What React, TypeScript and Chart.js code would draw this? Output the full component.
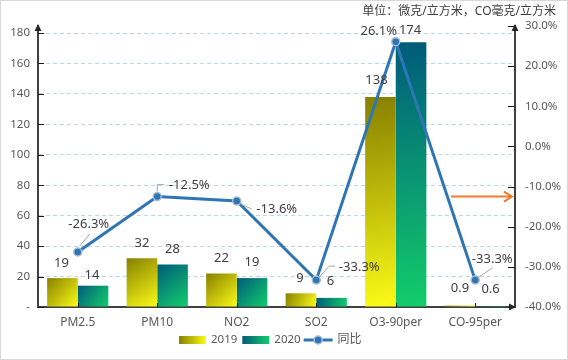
import React, { useEffect, useRef } from 'react';
import { Chart, registerables } from 'chart.js';

Chart.register(...registerables);

// ---- data ----
const categories = ['PM2.5', 'PM10', 'NO2', 'SO2', 'O3-90per', 'CO-95per'];
const values2019 = [19, 32, 22, 9, 138, 0.9];
const values2020 = [14, 28, 19, 6, 174, 0.6];
const yoyPercent = [-26.3, -12.5, -13.6, -33.3, 26.1, -33.3];
const leftTicks = [0, 20, 40, 60, 80, 100, 120, 140, 160, 180];
const seriesNames = ['2019', '2020', '同比'];
const unitText = '单位：微克/立方米，CO毫克/立方米';
const arrowLevel = -12.5;

// ---- styling (label placement offsets, colours) ----
const FONT = "'Noto Sans', 'Noto Sans CJK SC', sans-serif";
const grad2019 = ['#878000', '#fbfb16'];
const grad2020 = ['#005a7a', '#12cd6a'];
const lineColor = '#2E75B6';
const off2019 = [[-1, -15], [0, -15], [0, -15], [-1, -15], [-4, -17], [0, -17]];
const off2020 = [[-1, -10], [0, -15], [0, -16], [-1, -17], [-1, -12], [0, -17]];
const offLine = [[11, -28], [32, -11], [40, 8], [43, -13], [-17, -10], [17, -21]];
const leaders: number[][][] = [
  [[2, -6], [12, -18]],
  [[0, -5], [0, -12], [7, -12]],
  [[4, 3], [15, 8]],
  [[2, -2], [13, -14], [19, -14]],
  [],
  [[2, -2], [17, -12]],
];

const fmtBar = (v: number) => String(v);
const fmtPct = (v: number) => v.toFixed(1) + '%';

const decorPlugin = {
  id: 'decor',
  beforeDatasetsDraw(chart: any) {
    const ctx = chart.ctx;
    [0, 1].forEach((di) => {
      const meta = chart.getDatasetMeta(di);
      const cols = di === 0 ? grad2019 : grad2020;
      meta.data.forEach((bar: any) => {
        const { x, y, base, width } = bar.getProps(['x', 'y', 'base', 'width'], true);
        const g = ctx.createLinearGradient(x - width / 2, y, x + width / 2, base);
        g.addColorStop(0, cols[0]);
        g.addColorStop(1, cols[1]);
        bar.options = Object.assign({}, bar.options, { backgroundColor: g });
      });
    });
  },
  afterDatasetsDraw(chart: any) {
    const ctx = chart.ctx;
    const area = chart.chartArea;
    ctx.save();
    // orange arrow
    const ay = chart.scales.y1.getPixelForValue(arrowLevel);
    const ax1 = area.right - 64;
    const ax2 = area.right - 3;
    ctx.strokeStyle = '#ED7D31';
    ctx.lineWidth = 2;
    ctx.beginPath();
    ctx.moveTo(ax1, ay);
    ctx.lineTo(ax2, ay);
    ctx.moveTo(ax2 - 8, ay - 5);
    ctx.lineTo(ax2, ay);
    ctx.lineTo(ax2 - 8, ay + 5);
    ctx.stroke();

    // leader lines
    const lineMeta = chart.getDatasetMeta(2);
    ctx.strokeStyle = '#a6a6a6';
    ctx.lineWidth = 1;
    lineMeta.data.forEach((pt: any, i: number) => {
      const L = leaders[i];
      if (!L || L.length < 2) return;
      const { x, y } = pt.getProps(['x', 'y'], true);
      ctx.beginPath();
      L.forEach((p, k) => (k === 0 ? ctx.moveTo(x + p[0], y + p[1]) : ctx.lineTo(x + p[0], y + p[1])));
      ctx.stroke();
    });

    // labels
    ctx.font = `13px ${FONT}`;
    ctx.fillStyle = '#404040';
    ctx.textAlign = 'center';
    ctx.textBaseline = 'middle';
    [0, 1].forEach((di) => {
      const meta = chart.getDatasetMeta(di);
      const vals = di === 0 ? values2019 : values2020;
      const offs = di === 0 ? off2019 : off2020;
      meta.data.forEach((bar: any, i: number) => {
        const { x, y } = bar.getProps(['x', 'y'], true);
        ctx.fillText(fmtBar(vals[i]), x + offs[i][0], y + offs[i][1]);
      });
    });
    lineMeta.data.forEach((pt: any, i: number) => {
      const { x, y } = pt.getProps(['x', 'y'], true);
      ctx.fillText(fmtPct(yoyPercent[i]), x + offLine[i][0], y + offLine[i][1]);
    });
    ctx.restore();
  },
  afterDraw(chart: any) {
    const ctx = chart.ctx;
    const area = chart.chartArea;
    const W = chart.width;
    ctx.save();
    // inner tick marks
    ctx.strokeStyle = '#1a1a1a';
    ctx.lineWidth = 1;
    const ys = chart.scales.y;
    const y1 = chart.scales.y1;
    const xs = chart.scales.x;
    ctx.beginPath();
    leftTicks.forEach((v) => {
      const py = Math.round(ys.getPixelForValue(v)) + 0.5;
      ctx.moveTo(area.left, py);
      ctx.lineTo(area.left + 6, py);
    });
    y1.ticks.forEach((t: any) => {
      const py = Math.round(y1.getPixelForValue(t.value)) + 0.5;
      ctx.moveTo(area.right - 7, py);
      ctx.lineTo(area.right, py);
    });
    categories.forEach((_, i) => {
      const px = Math.round(xs.getPixelForValue(i)) + 0.5;
      ctx.moveTo(px, area.bottom);
      ctx.lineTo(px, area.bottom - 4);
    });
    ctx.stroke();

    // axis arrows
    ctx.fillStyle = '#262626';
    const tri = (pts: number[][]) => {
      ctx.beginPath();
      ctx.moveTo(pts[0][0], pts[0][1]);
      ctx.lineTo(pts[1][0], pts[1][1]);
      ctx.lineTo(pts[2][0], pts[2][1]);
      ctx.closePath();
      ctx.fill();
    };
    tri([[area.left, area.top - 2], [area.left - 3.5, area.top + 5], [area.left + 3.5, area.top + 5]]);
    tri([[area.right, area.top - 2], [area.right - 3.5, area.top + 5], [area.right + 3.5, area.top + 5]]);
    tri([[area.right + 1, area.bottom], [area.right - 6, area.bottom - 3.5], [area.right - 6, area.bottom + 3.5]]);

    // unit title
    ctx.font = `12px ${FONT}`;
    ctx.fillStyle = '#404040';
    ctx.textAlign = 'right';
    ctx.textBaseline = 'middle';
    ctx.fillText(unitText, W - 12, 12);

    // legend
    const ly = 340;
    ctx.font = `11.5px ${FONT}`;
    const sw = 27;
    const t0 = ctx.measureText(seriesNames[0]).width;
    const t1 = ctx.measureText(seriesNames[1]).width;
    ctx.font = `12px ${FONT}`;
    const t2 = ctx.measureText(seriesNames[2]).width;
    const total = sw + 5 + t0 + 5 + sw + 5 + t1 + 3 + 29 + 5 + t2;
    let lx = Math.round(W / 2 - 14 - total / 2);
    const swatch = (cols: string[]) => {
      const g = ctx.createLinearGradient(lx, 0, lx + sw, 0);
      g.addColorStop(0, cols[0]);
      g.addColorStop(1, cols[1]);
      ctx.fillStyle = g;
      ctx.fillRect(lx, ly - 4, sw, 8);
      lx += sw + 5;
    };
    ctx.textAlign = 'left';
    swatch(grad2019);
    ctx.font = `11.5px ${FONT}`;
    ctx.fillStyle = '#595959';
    ctx.fillText(seriesNames[0], lx, ly);
    lx += t0 + 5;
    swatch(grad2020);
    ctx.font = `11.5px ${FONT}`;
    ctx.fillStyle = '#595959';
    ctx.fillText(seriesNames[1], lx, ly);
    lx += t1 + 3;
    ctx.strokeStyle = lineColor;
    ctx.lineWidth = 3;
    ctx.beginPath();
    ctx.moveTo(lx, ly);
    ctx.lineTo(lx + 29, ly);
    ctx.stroke();
    ctx.beginPath();
    ctx.arc(lx + 14.5, ly, 4, 0, Math.PI * 2);
    ctx.fillStyle = lineColor;
    ctx.fill();
    ctx.lineWidth = 1.5;
    ctx.strokeStyle = '#a9bccf';
    ctx.stroke();
    lx += 29 + 5;
    ctx.font = `12px ${FONT}`;
    ctx.fillStyle = '#595959';
    ctx.fillText(seriesNames[2], lx, ly);

    // outer frame
    ctx.strokeStyle = '#d9d9d9';
    ctx.lineWidth = 1;
    ctx.strokeRect(0.5, 0.5, W - 1, chart.height - 1);
    ctx.restore();
  },
};

export default function App() {
  const ref = useRef<HTMLCanvasElement | null>(null);
  useEffect(() => {
    if (!ref.current) return;
    const chart = new Chart(ref.current, {
      type: 'bar',
      data: {
        labels: categories,
        datasets: [
          {
            type: 'bar',
            label: seriesNames[0],
            data: values2019,
            yAxisID: 'y',
            backgroundColor: () => grad2019[1],
            categoryPercentage: 0.77,
            barPercentage: 1,
            order: 2,
          },
          {
            type: 'bar',
            label: seriesNames[1],
            data: values2020,
            yAxisID: 'y',
            backgroundColor: () => grad2020[1],
            categoryPercentage: 0.77,
            barPercentage: 1,
            order: 2,
          },
          {
            type: 'line',
            label: seriesNames[2],
            data: yoyPercent,
            yAxisID: 'y1',
            borderColor: lineColor,
            borderWidth: 3,
            pointRadius: 4,
            pointBackgroundColor: lineColor,
            pointBorderColor: '#a9bccf',
            pointBorderWidth: 1.5,
            tension: 0,
            order: 1,
            clip: false,
          } as any,
        ],
      },
      options: {
        animation: false,
        responsive: true,
        maintainAspectRatio: false,
        layout: { padding: { top: 26, bottom: 23, left: 0, right: 0 } },
        plugins: {
          legend: { display: false },
          tooltip: { enabled: false },
        },
        scales: {
          x: {
            type: 'category',
            grid: { display: false, drawTicks: false },
            border: { display: true, color: '#404040', width: 2 },
            ticks: { color: '#595959', font: { family: FONT, size: 12 }, padding: 8 },
            afterFit: (s: any) => {
              s.height = 30;
            },
          },
          y: {
            type: 'linear',
            position: 'left',
            min: 0,
            max: 184.6,
            afterBuildTicks: (s: any) => {
              s.ticks = leftTicks.map((v) => ({ value: v }));
            },
            grid: {
              drawTicks: false,
              color: (c: any) => (c.tick && c.tick.value === 0 ? 'rgba(0,0,0,0)' : '#bdd7ee'),
              lineWidth: 1,
            },
            border: { display: true, color: '#404040', width: 2, dash: [4, 3] },
            ticks: {
              color: '#595959',
              font: { family: FONT, size: 11.5 },
              padding: 8,
              callback: (v: any) => (Number(v) === 0 ? '-' : String(v)),
            },
            afterFit: (s: any) => {
              s.width = 38;
            },
          },
          y1: {
            type: 'linear',
            position: 'right',
            min: -40,
            max: 30,
            grid: { display: false, drawTicks: false },
            border: { display: true, color: '#404040', width: 2 },
            ticks: {
              stepSize: 10,
              color: '#595959',
              font: { family: FONT, size: 11.5 },
              padding: 10,
              callback: (v: any) => Number(v).toFixed(1) + '%',
            },
            afterFit: (s: any) => {
              s.width = 53;
            },
          },
        },
      } as any,
      plugins: [decorPlugin],
    });
    return () => chart.destroy();
  }, []);

  return (
    <div style={{ position: 'fixed', left: 0, top: 0, width: 568, height: 360, background: '#ffffff' }}>
      <canvas ref={ref} />
    </div>
  );
}
